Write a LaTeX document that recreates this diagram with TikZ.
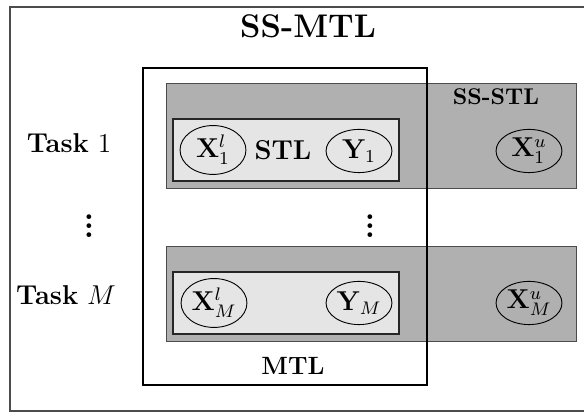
\documentclass[tikz,border=0pt]{standalone}
\usepackage{amsmath}
\usepackage{amssymb}
\usepackage{xcolor}
\usetikzlibrary{shapes.geometric}

\begin{document}
\begin{tikzpicture}[x=0.44pt,y=0.44pt,
            var/.style={ellipse,draw,thin,minimum width=29pt,minimum height=19pt,inner sep=0pt,font=\large},
            xvar/.style={var,minimum height=21.5pt},
            ssbox/.style={draw=black!70,fill=black!31},
            stlbox/.style={draw=black!85,fill=black!10,semithick},
            lbl/.style={font=\bfseries},
            dots/.style={font=\Large\bfseries}]
            \useasboundingbox (0,0) rectangle (584,412);
            \draw[black!70,semithick] (10,1) rectangle (600,405);

            \node (t) at (308,386) [font=\Large\bfseries] {SS-MTL};
            \node (a) at (69,269) [font=\large] {\textbf{Task} $1$};
            \node (b) at (89,193) [dots] {$\vdots$};
            \node (c) at (66,117) [font=\large] {\textbf{Task} $M$};

            \draw[ssbox] (166,224) rectangle (576,329);
            \draw[stlbox] (173,231) rectangle (399,293);
            \draw[ssbox] (166,71) rectangle (576,166);
            \draw[stlbox] (173,78) rectangle (399,140);

            \node (u) at (213,262) [xvar] {$\mathbf{X}_1^l$};
            \node (v) at (359,261) [var] {$\mathbf{Y}_1$};
            \node (w) at (529,261) [var] {$\mathbf{X}_1^u$};
            \node (x) at (214,109) [xvar] {$\mathbf{X}_M^l$};
            \node (y) at (359,109) [var] {$\mathbf{Y}_M$};
            \node (z) at (529,109) [var] {$\mathbf{X}_M^u$};

            \node (s) at (283,262) [lbl,font=\large\bfseries] {STL};
            \node (p) at (496,315) [lbl] {SS-STL};
            \node (d) at (370,193) [dots] {$\vdots$};

            \draw[line width=0.9pt] (143,27) rectangle (427,344);
            \node (m) at (293,46) [lbl,font=\fontsize{11}{13}\selectfont\bfseries] {MTL};
        \end{tikzpicture}
\end{document}
